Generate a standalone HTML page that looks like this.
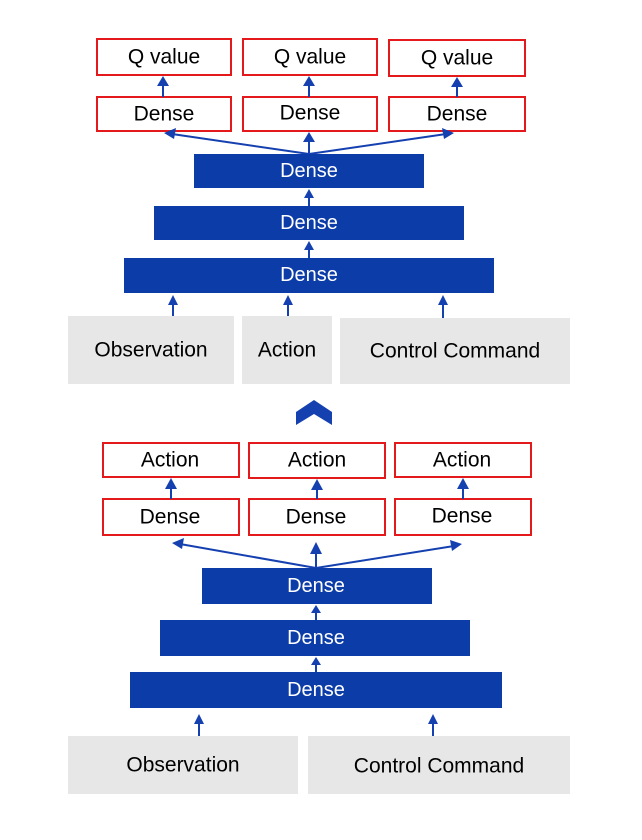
<!DOCTYPE html>
<html><head><meta charset="utf-8"><style>
html,body{margin:0;padding:0;background:#fff;}
svg{display:block;}
text{font-family:"Liberation Sans",sans-serif;font-size:21px;text-anchor:middle;dominant-baseline:central;}
.r{fill:#fff;stroke:#e3191c;stroke-width:2;}
.b{fill:#0c3ca8;}
.g{fill:#e7e7e7;}
.w{fill:#fff;font-size:20px;}
.l{stroke:#1540b0;stroke-width:2;fill:none;}
.h{fill:#1540b0;}
</style></head><body>
<svg width="642" height="840" viewBox="0 0 642 840">
<rect class="r" x="97" y="39" width="134" height="36"/><text x="164" y="57">Q value</text>
<rect class="r" x="243" y="39" width="134" height="36"/><text x="310" y="57">Q value</text>
<rect class="r" x="389" y="40" width="136" height="36"/><text x="457" y="58">Q value</text>
<rect class="r" x="97" y="97" width="134" height="34"/><text x="164" y="114">Dense</text>
<rect class="r" x="243" y="97" width="134" height="34"/><text x="310" y="113">Dense</text>
<rect class="r" x="389" y="97" width="136" height="34"/><text x="457" y="114">Dense</text>
<line class="l" x1="163" y1="97" x2="163" y2="84"/><polygon class="h" points="157,86 169,86 163,76"/>
<line class="l" x1="309" y1="97" x2="309" y2="84"/><polygon class="h" points="303,86 315,86 309,76"/>
<line class="l" x1="457" y1="97" x2="457" y2="85"/><polygon class="h" points="451,87 463,87 457,77"/>
<line class="l" x1="309" y1="154" x2="309" y2="140"/><polygon class="h" points="303,142 315,142 309,132"/>
<line class="l" x1="309" y1="154" x2="172" y2="134"/><polygon class="h" points="164,133 176,128 174,139"/>
<line class="l" x1="309" y1="154" x2="446" y2="134"/><polygon class="h" points="454,133 442,128 444,139"/>
<rect class="b" x="194" y="154" width="230" height="34"/><text class="w" x="309" y="171">Dense</text>
<rect class="b" x="154" y="206" width="310" height="34"/><text class="w" x="309" y="223">Dense</text>
<rect class="b" x="124" y="258" width="370" height="35"/><text class="w" x="309" y="275">Dense</text>
<line class="l" x1="309" y1="206" x2="309" y2="196"/><polygon class="h" points="304,198 314,198 309,189"/>
<line class="l" x1="309" y1="258" x2="309" y2="248"/><polygon class="h" points="304,250 314,250 309,241"/>
<line class="l" x1="173" y1="316" x2="173" y2="303"/><polygon class="h" points="168,305 178,305 173,295"/>
<line class="l" x1="288" y1="316" x2="288" y2="303"/><polygon class="h" points="283,305 293,305 288,295"/>
<line class="l" x1="443" y1="318" x2="443" y2="303"/><polygon class="h" points="438,305 448,305 443,295"/>
<rect class="g" x="68" y="316" width="166" height="68"/><text x="151" y="350">Observation</text>
<rect class="g" x="242" y="316" width="90" height="68"/><text x="287" y="350">Action</text>
<rect class="g" x="340" y="318" width="230" height="66"/><text x="455" y="351">Control Command</text>
<polygon class="h" points="296,412 314,400 332,412 332,425 314,414 296,425"/>
<rect class="r" x="103" y="443" width="136" height="34"/><text x="170" y="460">Action</text>
<rect class="r" x="249" y="443" width="136" height="35"/><text x="317" y="460">Action</text>
<rect class="r" x="395" y="443" width="136" height="34"/><text x="462" y="460">Action</text>
<rect class="r" x="103" y="499" width="136" height="36"/><text x="170" y="517">Dense</text>
<rect class="r" x="249" y="499" width="136" height="36"/><text x="316" y="517">Dense</text>
<rect class="r" x="395" y="499" width="136" height="36"/><text x="462" y="516">Dense</text>
<line class="l" x1="171" y1="499" x2="171" y2="486"/><polygon class="h" points="165,489 177,489 171,478"/>
<line class="l" x1="317" y1="499" x2="317" y2="487"/><polygon class="h" points="311,490 323,490 317,479"/>
<line class="l" x1="463" y1="499" x2="463" y2="486"/><polygon class="h" points="457,489 469,489 463,478"/>
<line class="l" x1="316" y1="568" x2="316" y2="552"/><polygon class="h" points="310,554 322,554 316,542"/>
<line class="l" x1="316" y1="568" x2="180" y2="544"/><polygon class="h" points="172,543 184,538 182,549"/>
<line class="l" x1="316" y1="568" x2="454" y2="546"/><polygon class="h" points="462,544 450,540 452,551"/>
<rect class="b" x="202" y="568" width="230" height="36"/><text class="w" x="316" y="586">Dense</text>
<rect class="b" x="160" y="620" width="310" height="36"/><text class="w" x="316" y="638">Dense</text>
<rect class="b" x="130" y="672" width="372" height="36"/><text class="w" x="316" y="690">Dense</text>
<line class="l" x1="316" y1="620" x2="316" y2="611"/><polygon class="h" points="311,613 321,613 316,605"/>
<line class="l" x1="316" y1="672" x2="316" y2="663"/><polygon class="h" points="311,665 321,665 316,657"/>
<line class="l" x1="199" y1="736" x2="199" y2="722"/><polygon class="h" points="194,724 204,724 199,714"/>
<line class="l" x1="433" y1="736" x2="433" y2="722"/><polygon class="h" points="428,724 438,724 433,714"/>
<rect class="g" x="68" y="736" width="230" height="58"/><text x="183" y="765">Observation</text>
<rect class="g" x="308" y="736" width="262" height="58"/><text x="439" y="766">Control Command</text>
</svg>
</body></html>
